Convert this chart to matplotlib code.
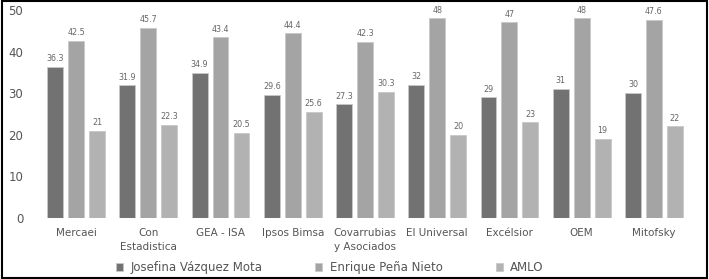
import numpy as np
import matplotlib.pyplot as plt
from matplotlib.patches import Rectangle

encuestadoras = ['Mercaei', 'Con\nEstadistica', 'GEA - ISA', 'Ipsos Bimsa',
                 'Covarrubias\ny Asociados', 'El Universal', 'Excélsior', 'OEM', 'Mitofsky']
jvm = [36.3, 31.9, 34.9, 29.6, 27.3, 32, 29, 31, 30]
epn = [42.5, 45.7, 43.4, 44.4, 42.3, 48, 47, 48, 47.6]
amlo = [21, 22.3, 20.5, 25.6, 30.3, 20, 23, 19, 22]
series = ['Josefina Vázquez Mota', 'Enrique Peña Nieto', 'AMLO']
colores = ['#727272', '#a4a4a4', '#b2b2b2']

fig = plt.figure(figsize=(7.09, 2.79), dpi=100)
ax = fig.add_axes([40 / 709, 61 / 279, 650 / 709, 208 / 279])

x = np.arange(len(encuestadoras))
w = 0.22
step = 0.29
for i, (vals, col, name) in enumerate(zip([jvm, epn, amlo], colores, series)):
    bars = ax.bar(x + (i - 1) * step, vals, w, color=col, edgecolor='#c8c8c8',
                  linewidth=0.6, label=name)
    for b, v in zip(bars, vals):
        ax.text(b.get_x() + b.get_width() / 2, v + 0.9, f'{v:g}', ha='center',
                va='bottom', fontsize=5.8, color='#666666')

ax.set_xlim(-0.5, len(encuestadoras) - 0.5)
ax.set_ylim(0, 50)
ax.set_yticks(range(0, 51, 10))
ax.set_xticks(x)
ax.set_xticklabels(encuestadoras, fontsize=7.5, color='#555555', linespacing=1.5)
ax.tick_params(axis='y', labelsize=8.5, colors='#555555', length=0, pad=12)
ax.tick_params(axis='x', length=0, pad=7)
for s in ax.spines.values():
    s.set_visible(False)

fig.legend(loc='center', bbox_to_anchor=(0.465, 0.04), ncol=3, frameon=False,
           fontsize=8.5, handlelength=0.6, handleheight=0.6, handletextpad=0.6,
           columnspacing=4.5, labelcolor='#555555')

fig.patches.append(Rectangle((0.003, 0.005), 0.994, 0.99, transform=fig.transFigure,
                             fill=False, edgecolor='black', linewidth=1.5))

fig.savefig('out.png', dpi=100)
